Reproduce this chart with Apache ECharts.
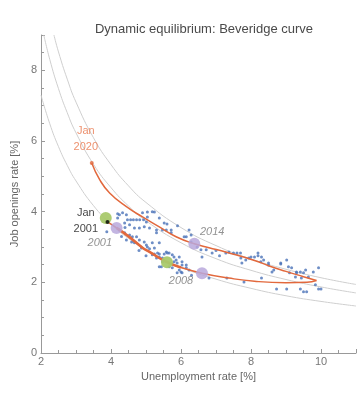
<!DOCTYPE html>
<html>
<head>
<meta charset="utf-8">
<script src="https://cdn.jsdelivr.net/npm/echarts@6/dist/echarts.min.js"></script>
<style>html,body{margin:0;padding:0;background:#fff;}#c{width:359px;height:400px;}</style>
</head>
<body>
<div id="c"></div>
<script>
// Monthly observations [unemployment rate, job openings rate]
var observations = [
[4.19,3.94],[4.24,3.91],[4.33,3.97],[4.44,3.91],[4.19,3.82],[4.47,3.77],[4.56,3.77],[4.64,3.77],[4.73,3.77],[4.82,3.77],[4.93,3.77],
[4.90,3.97],[5.04,3.99],[5.04,3.85],[5.01,3.71],[5.24,3.99],[5.38,3.82],[5.18,4.00],[5.52,3.68],[4.39,3.68],[4.53,3.63],[4.67,3.54],
[4.81,3.54],[4.95,3.57],[5.10,3.54],[5.30,3.48],[5.47,3.48],[5.58,3.48],[5.72,3.48],[5.72,3.40],[5.30,3.40],[4.39,3.40],[4.53,3.34],
[4.61,3.29],[4.73,3.29],[4.44,3.20],[4.59,3.14],[4.67,3.12],[4.81,3.20],[4.95,3.14],[5.01,3.06],[4.87,2.97],[5.04,3.00],[5.24,2.97],
[5.38,3.12],[5.18,3.12],[6.09,3.29],[6.23,3.48],[6.29,3.14],[6.15,3.29],[6.29,3.34],[4.24,3.48],[3.88,3.43],[5.90,3.60],[5.60,3.65],
[4.30,3.30],[4.40,3.55],
[5.66,2.83],[5.75,2.78],[5.80,2.72],[5.95,2.72],[5.89,2.55],[6.03,2.58],[6.15,2.49],[5.38,2.72],[5.47,2.58],[5.24,2.80],[5.38,2.80],
[5.52,2.80],[5.30,2.69],[5.47,2.69],[5.86,2.63],[5.38,2.44],[5.66,2.44],[5.95,2.35],[6.15,2.41],[5.80,2.58],[6.03,2.49],
[6.46,3.00],[6.57,2.92],[6.72,2.92],[6.89,2.83],[6.60,2.72],[6.80,2.12],[6.30,2.20],[4.80,2.90],[5.00,2.75],[5.10,2.95],
[5.18,2.78],[5.61,2.83],[5.75,2.41],[6.00,2.29],[5.44,2.44],[5.89,2.27],[5.33,2.83],[5.58,2.86],[6.03,2.27],[6.23,2.35],
[7.28,2.83],[7.37,2.86],[7.50,2.83],[7.60,2.83],[7.70,2.83],[7.71,2.69],[7.85,2.63],[7.94,2.69],[7.74,2.55],[8.00,2.72],[8.10,2.72],
[8.20,2.75],[8.30,2.72],[8.20,2.83],[8.36,2.63],[8.28,2.58],[8.50,2.55],[8.65,2.35],[8.85,2.55],[9.02,2.63],[9.07,2.44],[9.16,2.41],
[9.30,2.29],[9.41,2.29],[9.50,2.27],[9.56,2.35],[9.64,2.15],[9.78,2.29],[9.93,2.41],[9.84,1.93],[9.93,1.81],[10.00,1.81],[8.73,1.81],
[9.02,1.81],[9.41,1.81],[9.50,1.73],[9.59,1.73],[8.30,2.12],[7.80,2.01],[7.31,2.12],[9.27,2.15],[9.44,2.12],[7.00,2.90],[7.10,2.75],
[8.50,2.49],[8.60,2.29],[9.10,2.27],[9.30,2.27],[8.85,2.52]
];
// Trajectory: Jan 2001 down the lower branch, then back up to Jan 2020
var pathLower = [[3.90,3.71],[4.16,3.54],[4.50,3.30],[4.90,2.98],[5.10,2.86],[5.60,2.57],[6.00,2.42],[6.60,2.26],[7.37,2.12],[8.10,2.03],[9.00,1.99],[9.60,2.00],[9.87,2.05]];
var pathUpper = [[9.87,2.05],[9.50,2.16],[9.00,2.31],[8.50,2.47],[8.10,2.62],[7.30,2.85],[6.80,2.98],[6.38,3.09],[5.86,3.29],[5.38,3.57],[4.90,3.85],[4.44,4.14],[3.96,4.53],[3.68,4.90],[3.45,5.38]];
var pathThick = [[4.16,3.54],[4.50,3.30],[4.90,2.98],[5.10,2.86],[5.60,2.57],[6.00,2.42]];
// Equilibrium reference curves
var curveInner = [[2.0,7.30],[2.25,6.49],[2.5,5.84],[2.75,5.31],[3.0,4.87],[3.5,4.17],[4.0,3.65],[4.5,3.24],[5.0,2.92],[6.0,2.43],[7.0,2.09],[8.0,1.83],[9.0,1.62],[10.0,1.46],[11.0,1.33]];
var curveMiddle = [[2.08,9.0],[2.25,8.31],[2.5,7.48],[2.75,6.80],[3.0,6.23],[3.5,5.34],[4.0,4.68],[4.5,4.16],[5.0,3.74],[6.0,3.12],[7.0,2.67],[8.0,2.34],[9.0,2.08],[10.0,1.87],[11.0,1.70]];
var curveOuter = [[2.37,9.0],[2.5,8.52],[2.75,7.75],[3.0,7.10],[3.5,6.09],[4.0,5.33],[4.5,4.73],[5.0,4.26],[6.0,3.55],[7.0,3.04],[8.0,2.66],[9.0,2.37],[10.0,2.13],[11.0,1.94]];
var greenMarks = [[3.85,3.82],[5.60,2.57]];
var purpleMarks = [[4.16,3.54],[6.38,3.09],[6.60,2.26]];
var startDot2001 = [[3.90,3.71]];
var startDot2020 = [[3.45,5.38]];
var yearLabels = [{value:[3.68,3.12],text:'2001'},{value:[6.89,3.43],text:'2014'},{value:[6.00,2.04],text:'2008'}];
var janLabels = [{value:[3.28,6.05],text:'Jan\n2020',color:'#e8764a'},{value:[3.28,3.74],text:'Jan\n2001',color:'#111'}];
var xTicks = [2,4,6,8,10];
var yTicks = [0,2,4,6,8];

var ORANGE = '#e2683c';
function curve(d){return {type:'line',data:d,smooth:true,symbol:'none',silent:true,lineStyle:{color:'#cfcfcf',width:1},z:1};}
var chart = echarts.init(document.getElementById('c'));
chart.setOption({
  animation:false,
  title:{text:'Dynamic equilibrium: Beveridge curve',left:199,textAlign:'center',top:18,textStyle:{fontFamily:'Liberation Sans, Arial',fontSize:13,fontWeight:'normal',color:'#4a4a4a'}},
  grid:{left:41,right:0,top:35,bottom:47},
  xAxis:{type:'value',min:2,max:11,interval:2,
    name:'Unemployment rate [%]',nameLocation:'middle',nameGap:18,
    nameTextStyle:{fontFamily:'Liberation Sans, Arial',fontSize:11,color:'#666'},
    axisLine:{lineStyle:{color:'#999'}},
    axisTick:{inside:true,length:4,lineStyle:{color:'#999'}},
    minorTick:{show:true,splitNumber:4,length:3,lineStyle:{color:'#999'}},
    splitLine:{show:false},
    axisLabel:{margin:3,fontFamily:'Liberation Sans, Arial',fontSize:11,color:'#777',
      formatter:function(v){return xTicks.indexOf(v)>=0?String(v):'';}}
  },
  yAxis:{type:'value',min:0,max:9,interval:2,
    name:'Job openings rate [%]',nameLocation:'middle',nameGap:16,
    nameTextStyle:{fontFamily:'Liberation Sans, Arial',fontSize:11,color:'#666'},
    axisLine:{show:true,lineStyle:{color:'#999'}},
    axisTick:{show:true,inside:true,length:4,lineStyle:{color:'#999'}},
    minorTick:{show:true,splitNumber:4,length:3,lineStyle:{color:'#999'}},
    splitLine:{show:false},
    axisLabel:{margin:4,fontFamily:'Liberation Sans, Arial',fontSize:11,color:'#777',
      formatter:function(v){return yTicks.indexOf(v)>=0?String(v):'';}}
  },
  series:[
    curve(curveInner),curve(curveMiddle),curve(curveOuter),
    {type:'scatter',data:observations,symbolSize:3,itemStyle:{color:'#4a72b8'},z:3},
    {type:'line',data:pathLower,smooth:true,symbol:'none',lineStyle:{color:ORANGE,width:1.5},z:4},
    {type:'line',data:pathUpper,smooth:true,symbol:'none',lineStyle:{color:ORANGE,width:1.5},z:4},
    {type:'line',data:pathThick,smooth:true,symbol:'none',lineStyle:{color:ORANGE,width:2.6},z:4},
    {type:'scatter',data:greenMarks,symbolSize:12,itemStyle:{color:'#a9c96c',opacity:0.95},z:5},
    {type:'scatter',data:purpleMarks,symbolSize:12,itemStyle:{color:'#b9a8dc',opacity:0.85},z:5},
    {type:'scatter',data:startDot2001,symbolSize:4,itemStyle:{color:'#000'},z:6},
    {type:'scatter',data:startDot2020,symbolSize:4,itemStyle:{color:ORANGE},z:6},
    {type:'scatter',symbolSize:0,z:7,
      data:yearLabels.map(function(d){return {value:d.value,label:{formatter:d.text}};}),
      label:{show:true,position:'inside',fontFamily:'Liberation Sans, Arial',fontSize:11,fontStyle:'italic',color:'#777'}},
    {type:'scatter',symbolSize:0,z:7,
      data:janLabels.map(function(d){return {value:d.value,label:{formatter:d.text,color:d.color}};}),
      label:{show:true,position:'inside',fontFamily:'Liberation Sans, Arial',fontSize:11,lineHeight:16,align:'center'}}
  ]
});
</script>
</body>
</html>
